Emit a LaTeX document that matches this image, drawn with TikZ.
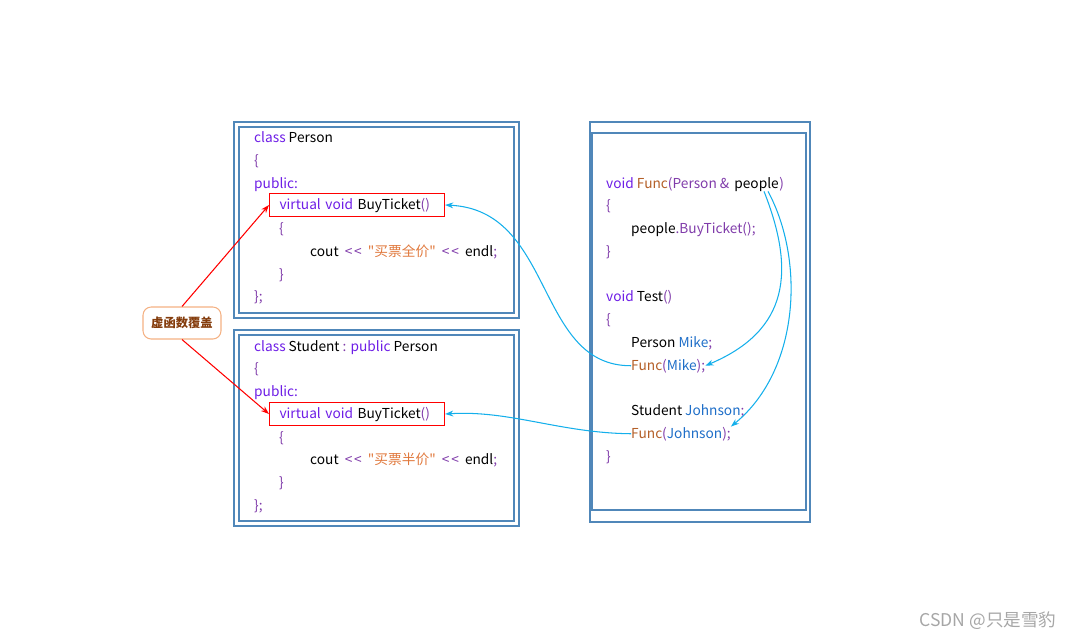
\documentclass[tikz,border=0pt]{standalone}
\usepackage{fontspec}
\newfontfamily\codefont{Noto Sans CJK SC}
\usetikzlibrary{arrows.meta, calc}

\definecolor{boxblue}{RGB}{80,135,185}
\definecolor{kwviolet}{RGB}{110,30,230}
\definecolor{pncpurple}{RGB}{128,60,170}
\definecolor{strorange}{RGB}{224,120,60}
\definecolor{fncbrown}{RGB}{180,95,40}
\definecolor{idtblue}{RGB}{30,110,200}
\definecolor{arrowcyan}{RGB}{20,175,235}
\definecolor{tagborder}{RGB}{244,177,131}
\definecolor{tagtext}{RGB}{132,60,12}

\newcommand{\kwd}[1]{\textcolor{kwviolet}{#1}}
\newcommand{\pnc}[1]{\textcolor{pncpurple}{#1}}
\newcommand{\strg}[1]{\textcolor{strorange}{#1}}
\newcommand{\fnc}[1]{\textcolor{fncbrown}{#1}}
\newcommand{\idt}[1]{\textcolor{idtblue}{#1}}
\newcommand{\shl}{\pnc{<\kern1.5pt<}}

\begin{document}
\begin{tikzpicture}[x=0.03cm, y=-0.03cm,
    code/.style={anchor=base west, inner sep=0pt, font=\codefont\fontsize{11.7}{14}\selectfont},
    frame/.style={draw=boxblue, line width=1pt},
    vbox/.style={draw=red, line width=0.9pt, anchor=west, inner xsep=0.3cm, inner ysep=0pt,
                 text width=4.65cm, align=left, minimum height=0.69cm,
                 font=\codefont\fontsize{11.7}{14}\selectfont},
    redarrow/.style={red, line width=0.9pt, -{Stealth[length=7pt, width=5pt]}},
    bluearrow/.style={arrowcyan, line width=0.9pt, -{Stealth[length=7pt, width=5pt]}}]
  \useasboundingbox (0,0) rectangle (1071,639);

  % class Person
  \draw[frame] (234,122) rectangle (519,318);
  \draw[frame] (239,127) rectangle (514,313);
  \node[code] (p1) at (254,142) {\kwd{class} Person};
  \node[code] (p2) at (254,165) {\pnc{\{}};
  \node[code] (p3) at (254,188) {\kwd{public:}};
  \node[vbox] (vb1) at (269,205) {\kwd{virtual void} BuyTicket\pnc{()}};
  \node[code] (p5) at (279,233) {\pnc{\{}};
  \node[code] (p6) at (310,256) {cout\ \ \shl\ \ \strg{"买票全价"}\ \ \shl\ \ endl\pnc{;}};
  \node[code] (p7) at (279,279) {\pnc{\}}};
  \node[code] (p8) at (254,301) {\pnc{\};}};

  % class Student
  \draw[frame] (234,330) rectangle (519,526);
  \draw[frame] (239,335) rectangle (514,521);
  \node[code] (s1) at (254,351) {\kwd{class} Student \pnc{:} \kwd{public} Person};
  \node[code] (s2) at (254,373) {\pnc{\{}};
  \node[code] (s3) at (254,396) {\kwd{public:}};
  \node[vbox] (vb2) at (269,414) {\kwd{virtual void} BuyTicket\pnc{()}};
  \node[code] (s5) at (279,442) {\pnc{\{}};
  \node[code] (s6) at (310,464) {cout\ \ \shl\ \ \strg{"买票半价"}\ \ \shl\ \ endl\pnc{;}};
  \node[code] (s7) at (279,487) {\pnc{\}}};
  \node[code] (s8) at (254,510) {\pnc{\};}};

  % Func and Test
  \draw[frame] (590,122) rectangle (810,522);
  \draw[frame] (592,133) rectangle (806,510);
  \node[code] (fh) at (606,188) {\kwd{void} \fnc{Func}\pnc{(Person \&}};
  \node[code] (pp) at ([xshift=4pt]fh.base east) {people};
  \node[code] (fr) at (pp.base east) {\pnc{)}};
  \node[code] (f2) at (606,210) {\pnc{\{}};
  \node[code] (f3) at (631,233) {people\pnc{.BuyTicket();}};
  \node[code] (f4) at (606,256) {\pnc{\}}};
  \node[code] (t1) at (606,301) {\kwd{void} Test\pnc{()}};
  \node[code] (t2) at (606,324) {\pnc{\{}};
  \node[code] (t3) at (631,347) {Person \idt{Mike}\pnc{;}};
  \node[code] (fm) at (631,370) {\fnc{Func}\pnc{(}\idt{Mike}\pnc{);}};
  \node[code] (t5) at (631,415) {Student \idt{Johnson}\pnc{;}};
  \node[code] (fj) at (631,438) {\fnc{Func}\pnc{(}\idt{Johnson}\pnc{);}};
  \node[code] (t7) at (606,461) {\pnc{\}}};

  % tag
  \node[draw=tagborder, line width=0.9pt, rounded corners=7pt, minimum width=2.34cm,
        minimum height=0.96cm, text=tagtext, font=\codefont\fontsize{10.5}{12}\selectfont\bfseries]
        (tag) at (182,323) {虚函数覆盖};
  \draw[redarrow] (tag.north) -- (vb1.west);
  \draw[redarrow] (tag.south) -- (vb2.west);

  \coordinate (pa) at ([xshift=-0.45cm]pp.south east);
  \coordinate (pb) at ([xshift=-0.33cm]pp.south east);
  \draw[bluearrow] (fm.west) .. controls (535,366) and (555,210) .. (vb1.east);
  \draw[bluearrow] (fj.west) .. controls (560,433) and (510,410) .. (vb2.east);
  \draw[bluearrow] (pa) .. controls (795,270) and (790,330) .. (fm.east);
  \draw[bluearrow] (pb) .. controls (805,260) and (800,370) .. (fj.north east);

  \node[font=\codefont\fontsize{15}{18}\selectfont, text=gray!70] (wm) at (988,621) {CSDN @只是雪豹};
\end{tikzpicture}
\end{document}
